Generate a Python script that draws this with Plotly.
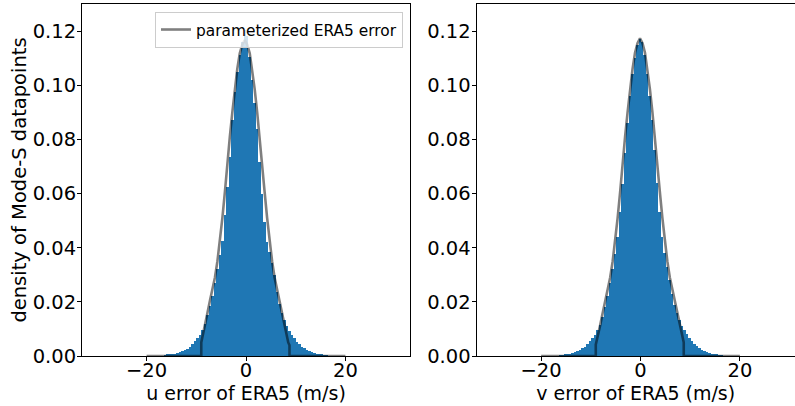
import numpy as np
import plotly.graph_objects as go

# ---------------- data ----------------
bin_width = 0.5
bin_centers = list(np.arange(-16.25, 16.26, 0.5))  # 66 bins

u_density = [0.0002, 0.0004, 0.0005, 0.0007, 0.0009, 0.0011, 0.0014, 0.0017,
             0.0021, 0.0027, 0.0035, 0.0045, 0.0055, 0.0065, 0.0077, 0.0095,
             0.0118, 0.0150, 0.0185, 0.0222, 0.0268, 0.0320, 0.0372, 0.0425,
             0.0520, 0.0625, 0.0735, 0.0870, 0.0975, 0.1050, 0.1110, 0.1160,
             0.1204,
             0.1180, 0.1105, 0.1020, 0.0935, 0.0840, 0.0715, 0.0600, 0.0495,
             0.0420, 0.0385, 0.0345, 0.0300, 0.0235, 0.0192, 0.0158, 0.0132,
             0.0110, 0.0092, 0.0077, 0.0065, 0.0053, 0.0043, 0.0035, 0.0028,
             0.0023, 0.0018, 0.0014, 0.0011, 0.0009, 0.0007, 0.0005, 0.0003,
             0.0002]

v_density = [0.0002, 0.0003, 0.0005, 0.0006, 0.0008, 0.0011, 0.0014, 0.0018,
             0.0022, 0.0028, 0.0035, 0.0044, 0.0055, 0.0066, 0.0079, 0.0095,
             0.0116, 0.0145, 0.0180, 0.0220, 0.0268, 0.0320, 0.0375, 0.0440,
             0.0530, 0.0635, 0.0750, 0.0860, 0.0960, 0.1040, 0.1100, 0.1150,
             0.1172,
             0.1160, 0.1110, 0.1040, 0.0960, 0.0870, 0.0760, 0.0640, 0.0530,
             0.0440, 0.0380, 0.0330, 0.0280, 0.0230, 0.0190, 0.0158, 0.0132,
             0.0112, 0.0095, 0.0080, 0.0067, 0.0055, 0.0045, 0.0036, 0.0029,
             0.0023, 0.0018, 0.0014, 0.0011, 0.0008, 0.0006, 0.0004, 0.0003,
             0.0002]

u_line_x = [-20, -9.0, -9.0, -8.75, -8.25, -7.75, -7.25, -6.75, -6.25, -5.75,
            -5.25, -4.75, -4.25, -3.75, -3.25, -2.75, -2.25, -1.75, -1.25,
            -0.75, -0.25, 0.25, 0.75, 1.25, 1.75, 2.25, 2.75, 3.25, 3.75, 4.25,
            4.75, 5.25, 5.75, 6.25, 6.75, 7.25, 7.75, 8.25, 8.5, 8.75, 8.75, 20]
u_line_y = [0, 0, 0.0050, 0.0070, 0.0115, 0.0160, 0.0205, 0.0245, 0.0290,
            0.0350, 0.0420, 0.0510, 0.0605, 0.0715, 0.0810, 0.0900, 0.0985,
            0.1060, 0.1118, 0.1150, 0.1167, 0.1150, 0.1118, 0.1060, 0.0985,
            0.0900, 0.0810, 0.0715, 0.0605, 0.0510, 0.0420, 0.0350, 0.0290,
            0.0245, 0.0205, 0.0160, 0.0115, 0.0070, 0.0050, 0.0040, 0, 0]

v_line_x = [-20, -9.0, -9.0, -8.6, -8.1, -7.6, -7.1, -6.6, -6.1, -5.6, -5.1,
            -4.6, -4.1, -3.6, -3.1, -2.6, -2.1, -1.6, -1.1, -0.6, -0.1, 0.4,
            0.9, 1.4, 1.9, 2.4, 2.9, 3.4, 3.9, 4.4, 4.9, 5.4, 5.9, 6.4, 6.9,
            7.4, 7.9, 8.4, 8.7, 8.7, 20]
v_line_y = [0, 0, 0.0042, 0.0070, 0.0115, 0.0160, 0.0205, 0.0245, 0.0290,
            0.0350, 0.0420, 0.0510, 0.0605, 0.0715, 0.0810, 0.0900, 0.0985,
            0.1060, 0.1120, 0.1155, 0.1173, 0.1155, 0.1120, 0.1060, 0.0985,
            0.0900, 0.0810, 0.0715, 0.0605, 0.0510, 0.0420, 0.0350, 0.0290,
            0.0245, 0.0205, 0.0160, 0.0115, 0.0070, 0.0050, 0, 0]

x_ticks = [-20, 0, 20]
y_ticks = [0.0, 0.02, 0.04, 0.06, 0.08, 0.10, 0.12]
legend_label = "parameterized ERA5 error"
x_titles = ["u error of ERA5 (m/s)", "v error of ERA5 (m/s)"]
y_title = "density of Mode-S datapoints"

# ---------------- figure ----------------
BLUE = "#1f77b4"
LINE = "rgba(0,0,0,0.5)"
FONT = "DejaVu Sans"

fig = go.Figure()
fig.add_trace(go.Bar(x=bin_centers, y=u_density, width=bin_width,
                     marker=dict(color=BLUE, line=dict(width=0)),
                     showlegend=False, xaxis="x", yaxis="y"))
fig.add_trace(go.Scatter(x=u_line_x, y=u_line_y, mode="lines",
                         line=dict(color=LINE, width=2.6),
                         name=legend_label, showlegend=True,
                         xaxis="x", yaxis="y"))
fig.add_trace(go.Bar(x=bin_centers, y=v_density, width=bin_width,
                     marker=dict(color=BLUE, line=dict(width=0)),
                     showlegend=False, xaxis="x2", yaxis="y2"))
fig.add_trace(go.Scatter(x=v_line_x, y=v_line_y, mode="lines",
                         line=dict(color=LINE, width=2.6),
                         showlegend=False, xaxis="x2", yaxis="y2"))

L, T, B = 82, 4, 50
W, H = 795, 406
pw = W - L
left_dom = [0, (410 - L) / pw]
right_dom = [(476.5 - L) / pw, 1.0]
right_max = -33 + (W - 476.5) / (328 / 66)

axis_common = dict(showline=True, linecolor="black", linewidth=1,
                   ticks="outside", ticklen=4, tickwidth=1, tickcolor="black",
                   showgrid=False, zeroline=False,
                   tickfont=dict(family=FONT, size=19.5, color="black"))

xt = dict(ticklabelstandoff=-7)
yt = dict(ticklabelstandoff=-3)

fig.update_layout(
    width=W, height=H,
    margin=dict(l=L, r=0, t=T, b=B, pad=0),
    paper_bgcolor="white", plot_bgcolor="white",
    bargap=0, barmode="overlay",
    font=dict(family=FONT, color="black"),
    xaxis=dict(domain=left_dom, range=[-33, 33], tickvals=x_ticks,
               mirror=True, anchor="y",
               title=dict(text=x_titles[0], font=dict(size=19), standoff=4),
               **axis_common, **xt),
    yaxis=dict(domain=[0, 1], range=[0, 0.13], tickvals=y_ticks,
               tickformat=".2f", mirror=True, anchor="x",
               title=dict(text=y_title, font=dict(size=19.5), standoff=0),
               **axis_common, **yt),
    xaxis2=dict(domain=right_dom, range=[-33, right_max], tickvals=x_ticks,
                mirror=True, anchor="y2",
                title=dict(text=x_titles[1], font=dict(size=19), standoff=4),
                **axis_common, **xt),
    yaxis2=dict(domain=[0, 1], range=[0, 0.13], tickvals=y_ticks,
                tickformat=".2f", mirror=False, anchor="x2",
                **axis_common, **yt),
    legend=dict(x=(403 - L) / pw, xanchor="right", y=(356 - 12) / 352,
                yanchor="top", bgcolor="rgba(255,255,255,0.8)",
                bordercolor="#cccccc", borderwidth=1,
                font=dict(family=FONT, size=15.4, color="black"),
                itemwidth=30),
)

fig.write_html("out.html")
